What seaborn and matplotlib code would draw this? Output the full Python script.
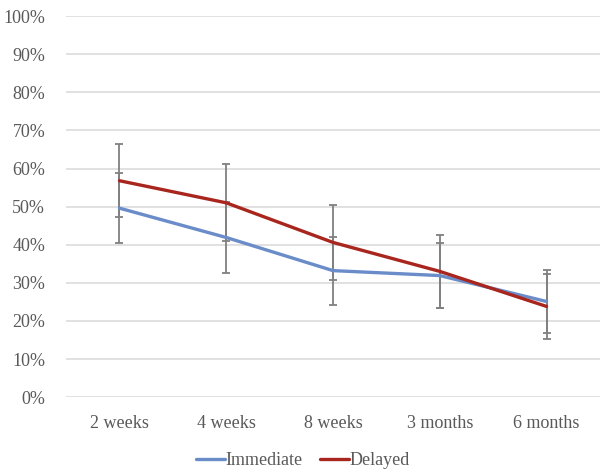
import numpy as np
import pandas as pd
import seaborn as sns
from matplotlib import pyplot as plt
from matplotlib.ticker import PercentFormatter

sns.set_style("white")
plt.rcParams['font.family'] = ['Liberation Serif', 'DejaVu Serif']

#### values (percent)
timepoints = ["2 weeks", "4 weeks", "8 weeks", "3 months", "6 months"]
immediate = [49.6, 41.9, 33.2, 31.9, 25.1]
immediate_err = [9.1, 9.2, 8.9, 8.6, 8.3]
delayed = [56.8, 51.0, 40.6, 33.0, 23.8]
delayed_err = [9.6, 10.1, 9.9, 9.6, 8.6]

plot_data = pd.DataFrame({
    "time": timepoints * 2,
    "value": immediate + delayed,
    "err": immediate_err + delayed_err,
    "group": ["Immediate"] * 5 + ["Delayed"] * 5,
})

fig = plt.figure(figsize=(6.06, 4.75), dpi=100)
ax = fig.add_axes([0.109, 0.164, 0.881, 0.802])

colors = {"Immediate": "#6a8cc9", "Delayed": "#a8261e"}

# error bars first, so the lines sit on top
x = np.arange(len(timepoints))
for name, grp in plot_data.groupby("group", sort=False):
    ax.errorbar(x, grp["value"], yerr=grp["err"], fmt="none",
                ecolor="#808080", elinewidth=1.3, capsize=3, capthick=1.3, zorder=2)

sns.lineplot(data=plot_data, x="time", y="value", hue="group", palette=colors,
             linewidth=2.4, sort=False, ax=ax, zorder=3)

ax.set_xlim(-0.5, len(timepoints) - 0.5)
ax.set_ylim(0, 100)
ax.set_yticks(np.arange(0, 101, 10))
ax.yaxis.set_major_formatter(PercentFormatter(decimals=0))
ax.grid(axis="y", color="#d9d9d9", linewidth=1.1)
ax.set_axisbelow(True)
for s in ax.spines.values():
    s.set_visible(False)
ax.tick_params(axis="both", length=0, labelsize=13, colors="#595959")
ax.tick_params(axis="x", pad=13)
ax.tick_params(axis="y", pad=15)
ax.set_xlabel("")
ax.set_ylabel("")

# legend centred on the figure, not the axes
ax.legend(loc="upper center", bbox_to_anchor=(0.5, 0.064), bbox_transform=fig.transFigure,
          ncol=2, frameon=False, borderaxespad=0,
          fontsize=13, handlelength=1.6, handletextpad=0.0, columnspacing=1.0,
          labelcolor="#595959")

plt.savefig("out.png", dpi=100)
